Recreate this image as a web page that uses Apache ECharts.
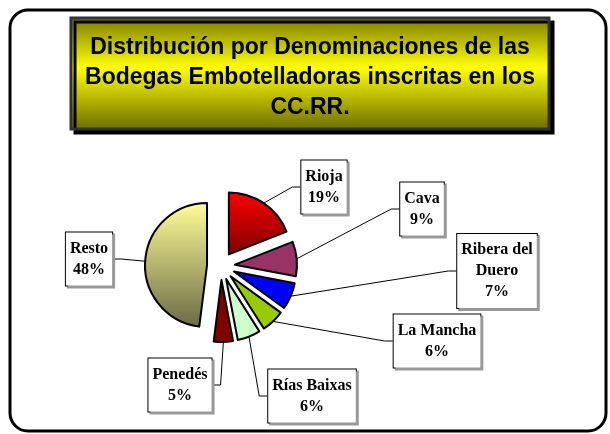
<!DOCTYPE html>
<html>
<head>
<meta charset="utf-8">
<script src="https://cdn.jsdelivr.net/npm/echarts@6/dist/echarts.min.js"></script>
</head>
<body style="margin:0;background:#fff;">
<div id="main" style="width: 610px;height:434px;"></div>
<script>
    // datos del gráfico
    var denominaciones = ['Rioja', 'Cava', 'Ribera del Duero', 'La Mancha', 'Rías Baixas', 'Penedés', 'Resto'];
    var porcentajes = [19, 9, 7, 6, 6, 5, 48];

    // colores de cada sector (degradado arriba -> abajo)
    var colores = [
        ['#ff0000', '#7a0000'],
        ['#993366', '#993366'],
        ['#0000ff', '#0000ff'],
        ['#99cc00', '#99cc00'],
        ['#ccffcc', '#ccffcc'],
        ['#800000', '#800000'],
        ['#ffff99', '#6b6a45']
    ];
    // centro de cada etiqueta
    var posEtiquetas = [
        [324, 187], [422, 209], [497, 271], [437, 341], [312, 396], [180, 385], [89, 259]
    ];

    var centro = [221, 266];
    var separacion = 14;

    var myChart = echarts.init(document.getElementById('main'));

    var total = porcentajes.reduce(function (a, b) { return a + b; }, 0);

    // un sector "separado" por serie: cada serie desplaza su centro según el ángulo medio
    var series = [];
    var acumulado = 0;
    porcentajes.forEach(function (v, i) {
        var medio = (acumulado + v / 2) / total * Math.PI * 2;
        acumulado += v;
        var c = [centro[0] + Math.sin(medio) * separacion, centro[1] - Math.cos(medio) * separacion];
        series.push({
            name: denominaciones[i],
            type: 'pie',
            center: c,
            radius: 62,
            startAngle: 90,
            clockwise: true,
            silent: true,
            avoidLabelOverlap: false,
            emphasis: {disabled: true},
            label: {
                show: true,
                position: 'outside',
                formatter: '{b}\n{d}%',
                fontFamily: 'Liberation Serif',
                fontWeight: 'bold',
                fontSize: 16,
                lineHeight: 21,
                color: '#000',
                align: 'center',
                backgroundColor: '#fff',
                borderColor: '#000',
                borderWidth: 1,
                padding: [6, 4, 5, 4],
                shadowColor: '#999',
                shadowOffsetX: 2,
                shadowOffsetY: 2,
                shadowBlur: 0
            },
            labelLine: {
                show: true,
                length: 8,
                length2: 8,
                lineStyle: {color: '#000', width: 1}
            },
            labelLayout: function (params) {
                var p = posEtiquetas[params.dataIndex];
                return {
                    x: p[0],
                    y: p[1],
                    align: 'center',
                    verticalAlign: 'middle'
                };
            },
            data: denominaciones.map(function (nombre, j) {
                if (j !== i) {
                    return {
                        name: nombre,
                        value: porcentajes[j],
                        itemStyle: {color: 'rgba(0,0,0,0)', borderWidth: 0},
                        label: {show: false},
                        labelLine: {show: false}
                    };
                }
                var item = {
                    name: nombre,
                    value: porcentajes[j],
                    itemStyle: {
                        color: new echarts.graphic.LinearGradient(0, 0, 0, 1, [
                            {offset: 0, color: colores[j][0]},
                            {offset: 1, color: colores[j][1]}
                        ]),
                        borderColor: '#000',
                        borderWidth: 2
                    }
                };
                if (nombre === 'Ribera del Duero') {
                    item.label = {formatter: 'Ribera del\nDuero\n{d}%'};
                }
                return item;
            })
        });
    });

    var option = {
        animation: false,
        title: {
            text: 'Distribución por Denominaciones de las\nBodegas Embotelladoras inscritas en los\nCC.RR.',
            left: 305,
            top: 28,
            textAlign: 'center',
            textStyle: {
                fontFamily: 'Liberation Sans',
                fontWeight: 'bold',
                fontSize: 23,
                lineHeight: 30,
                color: '#000'
            }
        },
        graphic: [
            {
                type: 'rect',
                z: -10,
                shape: {x: 10, y: 10, width: 596, height: 421, r: 18},
                style: {fill: 'none', stroke: '#000', lineWidth: 3}
            },
            {
                type: 'rect',
                z: -5,
                shape: {x: 71, y: 18, width: 478, height: 111},
                style: {
                    fill: new echarts.graphic.LinearGradient(0, 0, 0, 1, [
                        {offset: 0, color: '#7a7a00'},
                        {offset: 0.45, color: '#ffff00'},
                        {offset: 1, color: '#6b6b00'}
                    ]),
                    stroke: '#333',
                    lineWidth: 3,
                    shadowColor: '#000',
                    shadowBlur: 0,
                    shadowOffsetX: 4,
                    shadowOffsetY: 4
                }
            }
        ],
        series: series
    };
    myChart.setOption(option);
</script>
</body>
</html>
